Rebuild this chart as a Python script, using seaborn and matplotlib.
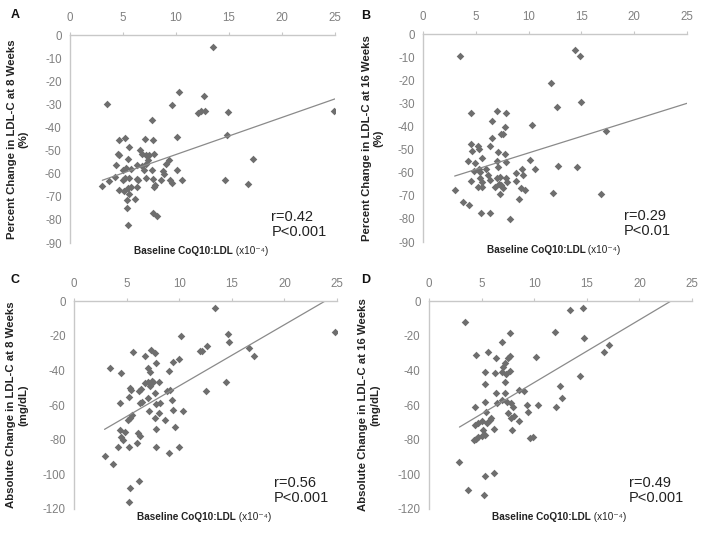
import numpy as np
import matplotlib
matplotlib.use("Agg")
import matplotlib.pyplot as plt
import seaborn as sns

# Baseline CoQ10:LDL (x10^-4) vs. change in LDL-C
a_x = [3.5, 10.3, 9.6, 12.1, 12.4, 12.7, 12.6, 13.5, 24.9, 14.9, 14.8, 14.6, 16.8, 17.3,
       7.7, 10.1, 4.65, 5.2, 7.1, 7.8, 4.55, 5.6, 6.6, 6.8, 7.2, 7.5, 7.9, 7.4, 7.2, 5.5,
       9.3, 9.1, 5.3, 6.3, 6.8, 4.3, 5.0, 5.8, 7.0, 7.7, 8.8, 10.1, 5.2, 5.6, 6.3, 6.4,
       7.2, 7.8, 8.0, 7.9, 8.6, 9.4, 9.6, 10.6, 3.05, 3.7, 4.2, 5.0, 4.6, 5.1, 5.5, 5.75,
       6.3, 5.6, 5.4, 6.1, 5.4, 7.8, 8.2, 5.5, 4.6, 8.9]
a_y = [-30.0, -24.6, -30.3, -33.7, -33.0, -33.0, -26.5, -5.0, -33.0, -33.5, -43.3, -62.8, -64.3, -53.5,
       -36.8, -44.1, -45.5, -44.5, -45.0, -45.5, -51.3, -48.4, -49.9, -51.3, -52.0, -52.0, -51.6, -54.2, -55.6, -53.5,
       -54.2, -55.6, -57.4, -56.4, -56.8, -56.4, -58.5, -57.8, -58.5, -58.5, -58.8, -58.5, -61.7, -61.7, -62.1, -62.9,
       -61.7, -62.1, -64.7, -65.7, -62.9, -62.9, -64.0, -62.6, -65.5, -63.2, -61.4, -62.6, -67.2, -67.5, -66.1, -65.8,
       -65.8, -68.6, -71.5, -70.8, -74.7, -77.0, -78.5, -82.4, -51.9, -60.0]

b_x = [3.46, 14.4, 14.9, 12.1, 12.7, 15.0, 17.3, 12.75, 14.6, 12.3, 16.9,
       4.5, 7.0, 7.9, 6.5, 7.8, 7.4, 7.6, 10.3, 6.5, 4.5, 5.2, 4.6, 5.3, 6.3, 4.25, 4.9,
       5.6, 7.1, 7.8, 7.0, 7.9, 4.85, 5.3, 5.4, 6.0, 7.1, 5.4, 6.2, 4.5, 5.6, 5.2, 5.6,
       7.3, 7.9, 7.2, 7.4, 8.0, 7.6, 7.3, 6.8, 6.3, 8.8, 9.4, 9.5, 10.1, 10.6, 8.8, 9.3,
       9.7, 9.1, 3.0, 3.8, 4.4, 5.5, 6.3, 8.25, 7.0]
b_y = [-9.4, -6.8, -9.4, -21.3, -31.4, -29.5, -41.8, -57.0, -57.4, -69.0, -69.3,
       -34.0, -33.1, -34.3, -37.5, -40.1, -43.4, -43.4, -39.4, -45.2, -47.6, -48.5, -50.5, -49.9, -48.5, -54.9, -56.0,
       -53.8, -51.2, -51.7, -54.9, -55.3, -59.2, -58.6, -59.6, -58.6, -57.7, -62.5, -61.1, -63.5, -63.9, -66.1, -66.4,
       -61.8, -62.1, -64.7, -65.4, -63.9, -66.8, -69.3, -66.1, -63.2, -60.1, -58.2, -61.1, -54.6, -58.6, -63.5, -66.8,
       -67.6, -71.2, -67.6, -72.9, -73.8, -77.4, -77.4, -79.9, -62.1]

c_x = [13.4, 24.8, 10.2, 14.65, 14.75, 12.6, 12.0, 12.2, 16.6, 17.1, 14.4, 12.5, 10.4, 10.0, 9.4,
       5.57, 3.4, 4.5, 6.7, 7.3, 7.7, 7.75, 7.05, 7.2, 9.0, 5.3, 5.4, 6.7, 7.06, 7.4, 7.5,
       7.2, 6.4, 6.2, 8.1, 7.7, 8.8, 9.1, 5.25, 4.4, 6.3, 6.5, 7.0, 7.8, 8.2, 9.3, 7.1,
       8.1, 8.6, 7.7, 9.4, 5.3, 5.1, 5.5, 4.4, 4.8, 4.5, 4.2, 5.2, 5.95, 6.1, 6.3, 7.8,
       7.8, 9.6, 10.0, 9.0, 2.9, 3.7, 5.3, 6.2, 5.25, 4.7]
c_y = [-3.8, -18.0, -20.0, -18.8, -23.8, -25.9, -28.8, -28.8, -26.9, -32.0, -46.8, -51.8, -63.7, -33.6, -34.9,
       -29.2, -38.8, -41.7, -31.7, -28.2, -29.8, -35.9, -38.8, -40.7, -40.2, -50.3, -51.3, -47.4, -46.5, -45.9, -47.0,
       -49.0, -51.0, -52.0, -47.0, -52.8, -52.2, -51.3, -55.1, -58.6, -58.6, -58.0, -56.0, -59.3, -58.6, -57.0, -63.3,
       -64.7, -68.5, -67.6, -62.8, -67.6, -68.5, -65.7, -74.3, -75.3, -78.2, -84.0, -84.0, -82.0, -76.2, -77.8, -74.0,
       -84.0, -72.8, -84.0, -87.8, -89.7, -93.9, -107.9, -104.0, -115.9, -80.0]

d_x = [3.4, 13.4, 14.65, 12.0, 14.75, 16.6, 17.1, 14.4, 12.5, 12.6, 12.1, 7.7,
       6.9, 4.5, 5.6, 6.4, 7.7, 7.5, 10.2, 7.2, 7.06, 6.9, 6.3, 7.7, 7.3, 5.3, 7.2,
       5.3, 6.4, 7.2, 8.6, 9.0, 6.9, 7.4, 7.8, 8.0, 5.3, 4.4, 6.5, 9.3, 9.4, 10.4, 7.5,
       8.1, 7.8, 5.4, 5.9, 5.8, 5.5, 5.0, 4.7, 4.4, 8.6, 6.2, 5.1, 5.3, 7.85, 4.3, 4.5,
       4.7, 5.0, 9.6, 9.9, 2.9, 5.3, 6.2, 3.7, 5.25]
d_y = [-12.3, -5.2, -4.2, -18.0, -21.1, -29.2, -25.3, -43.2, -48.8, -56.1, -60.9, -18.6,
       -23.4, -31.1, -29.2, -33.0, -31.7, -33.0, -32.1, -35.5, -38.2, -40.7, -41.3, -40.1, -42.0, -41.0, -46.5,
       -47.8, -52.8, -52.8, -51.3, -51.9, -57.0, -58.0, -59.0, -60.9, -58.0, -60.9, -59.0, -59.9, -64.3, -59.9, -64.7,
       -66.6, -67.6, -63.8, -67.6, -68.6, -70.5, -69.5, -70.1, -71.4, -69.5, -73.9, -74.3, -77.2, -74.7, -80.1, -79.7,
       -78.5, -77.6, -79.1, -78.2, -93.1, -101.2, -99.3, -109.3, -112.1]

panel_letters = ["A", "B", "C", "D"]
y_labels = [
    "Percent Change in LDL-C at 8 Weeks\n(%)",
    "Percent Change in LDL-C at 16 Weeks\n(%)",
    "Absolute Change in LDL-C at 8 Weeks\n(mg/dL)",
    "Absolute Change in LDL-C at 16 Weeks\n(mg/dL)",
]
r_labels = ["r=0.42", "r=0.29", "r=0.56", "r=0.49"]
p_labels = ["P<0.001", "P<0.01", "P<0.001", "P<0.001"]

POINT_COLOR = "#6e6e6e"
LINE_COLOR = "#8a8a8a"
SPINE_COLOR = "#c8c8c8"
TICK_COLOR = "#808080"
TEXT_COLOR = "#222222"


def style_axis(ax, ymin, ystep):
    ax.set_xlim(0, 25)
    ax.set_ylim(ymin, 0)
    ax.set_xticks(np.arange(0, 26, 5))
    ax.set_yticks(np.arange(ymin, 1, ystep))
    ax.xaxis.tick_top()
    for side in ["right", "bottom"]:
        ax.spines[side].set_visible(False)
    for side in ["left", "top"]:
        ax.spines[side].set_color(SPINE_COLOR)
        ax.spines[side].set_linewidth(1.0)
    ax.tick_params(axis="x", length=2, pad=6, colors=SPINE_COLOR,
                   labelcolor=TICK_COLOR, labelsize=8.3)
    ax.tick_params(axis="y", length=3, pad=3, colors=SPINE_COLOR,
                   labelcolor=TICK_COLOR, labelsize=8.3)
    ax.set_xlabel("")


sns.set_style("white")
plt.rcParams["font.family"] = ["Liberation Sans", "DejaVu Sans"]
plt.rcParams["axes.unicode_minus"] = False

fig = plt.figure(figsize=(7.09, 5.36), dpi=100)

# axes rectangles in figure fractions
positions = [
    [0.0987, 0.5466, 0.3738, 0.388],
    [0.5966, 0.5485, 0.3724, 0.388],
    [0.1044, 0.0504, 0.3710, 0.388],
    [0.6050, 0.0504, 0.3710, 0.388],
]
series = [(a_x, a_y), (b_x, b_y), (c_x, c_y), (d_x, d_y)]
y_mins = [-90, -90, -120, -120]
y_steps = [10, 10, 20, 20]
ylabel_x = [-0.158, -0.151, -0.175, -0.186]
letter_pos = [(0.021, 0.972), (0.516, 0.970), (0.021, 0.478), (0.516, 0.478)]

for i in range(4):
    ax = fig.add_axes(positions[i])
    xs, ys = np.array(series[i][0]), np.array(series[i][1])
    sns.regplot(
        x=xs, y=ys, ax=ax, fit_reg=False, marker="D",
        scatter_kws={"s": 15, "color": POINT_COLOR, "linewidths": 0, "alpha": 1},
    )
    # linear trendline, from the smallest x out to the edge of the axis
    slope, intercept = np.polyfit(xs, ys, 1)
    line_x = np.array([xs.min(), 25.0])
    ax.plot(line_x, intercept + slope * line_x, color=LINE_COLOR, lw=0.9)
    style_axis(ax, y_mins[i], y_steps[i])

    ax.set_ylabel(y_labels[i], fontsize=8.2, fontweight="bold", color=TEXT_COLOR,
                  linespacing=1.2)
    ax.yaxis.set_label_coords(ylabel_x[i], 0.5)

    # x label sits under the plot, the tick labels stay on top
    ax.text(0.615, -0.055, "Baseline CoQ10:LDL", transform=ax.transAxes,
            ha="right", va="baseline", fontsize=7.2, fontweight="bold",
            color=TEXT_COLOR)
    ax.text(0.615, -0.055, " (x10\u207b\u2074)", transform=ax.transAxes,
            ha="left", va="baseline", fontsize=7.2, color=TEXT_COLOR)

    ax.text(0.76, 0.125, r_labels[i], transform=ax.transAxes, ha="left",
            va="center", fontsize=10.5, color=TEXT_COLOR)
    ax.text(0.76, 0.052, p_labels[i], transform=ax.transAxes, ha="left",
            va="center", fontsize=10.5, color=TEXT_COLOR)

    fig.text(letter_pos[i][0], letter_pos[i][1], panel_letters[i], ha="center",
             va="center", fontsize=9, fontweight="bold", color="#111111")

fig.savefig("out.png", dpi=100)
